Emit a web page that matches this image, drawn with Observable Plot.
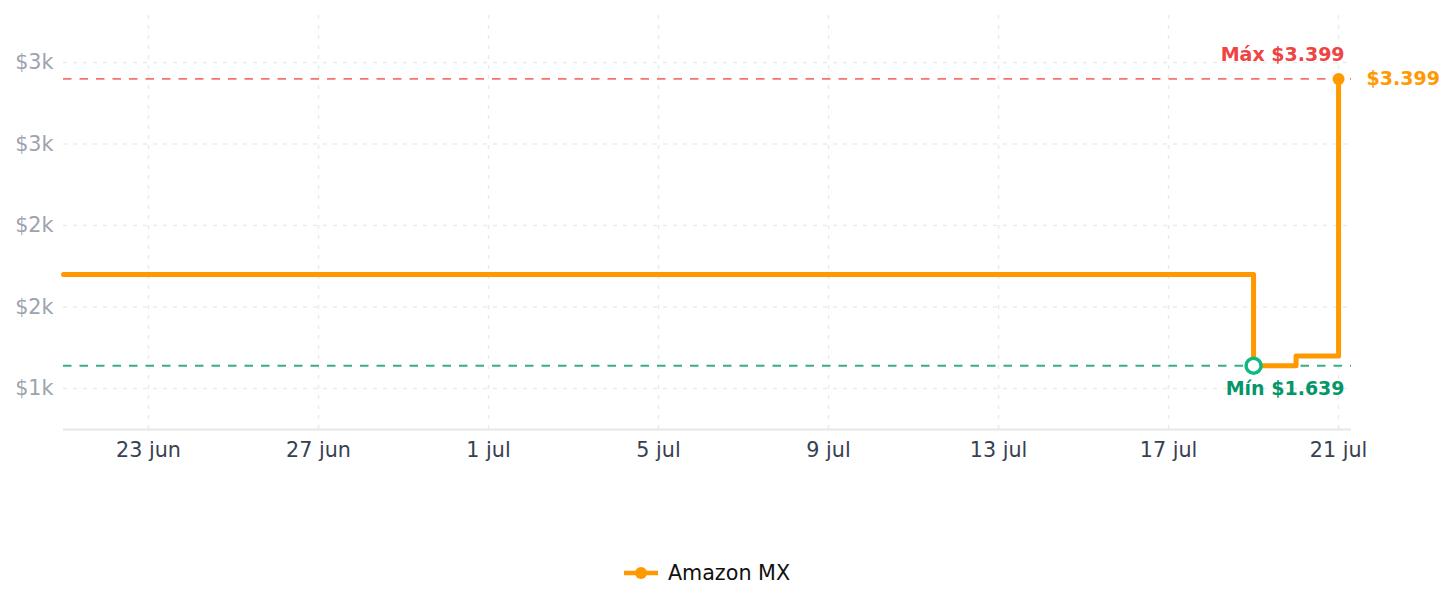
<!DOCTYPE html>
<html><head><meta charset="utf-8">
<script src="https://cdn.jsdelivr.net/npm/d3@7"></script>
<script src="https://cdn.jsdelivr.net/npm/@observablehq/plot@0.6"></script>
<style>
html,body{margin:0;padding:0;background:#fff;}
body{font-family:"DejaVu Sans",sans-serif;width:1453px;}
#chart svg{display:block;}
#legend{box-sizing:border-box;width:1453px;padding:0 102px 0 63px;margin-top:60px;display:flex;justify-content:center;align-items:center;height:26px;}
#legend .item{display:flex;align-items:center;gap:10px;font-size:20.7px;color:#111;}
</style></head><body>
<div id="chart"></div>
<div id="legend"></div>
<script>
// ---- data ----
const storeName = "Amazon MX";
const dates = ["2025-06-21", "2025-07-19", "2025-07-20", "2025-07-21"];
const prices = [2199, 1639, 1699, 3399];
const maxPrice = 3399;
const minPrice = 1639;
const minDate = "2025-07-19";
const lastDate = "2025-07-21";
const maxLabel = "Máx $3.399";
const minLabel = "Mín $1.639";
const lastLabel = "$3.399";
const xTickDates = ["2025-06-23", "2025-06-27", "2025-07-01", "2025-07-05", "2025-07-09", "2025-07-13", "2025-07-17", "2025-07-21"];
const xTickLabels = ["23 jun", "27 jun", "1 jul", "5 jul", "9 jul", "13 jul", "17 jul", "21 jul"];
const yTicks = [1500, 2000, 2500, 3000, 3500];
const yTickLabels = ["$1k", "$2k", "$2k", "$3k", "$3k"];

// ---- build ----
const parse = s => new Date(s + "T00:00:00Z");
const data = dates.map((d, i) => ({date: parse(d), price: prices[i]}));
const xTicks = xTickDates.map(parse);
const xLabelMap = new Map(xTicks.map((d, i) => [+d, xTickLabels[i]]));
const yLabelMap = new Map(yTicks.map((v, i) => [v, yTickLabels[i]]));
const xDomain = [parse(dates[0]), new Date(+parse(lastDate) + 7.3 * 3600e3)];
const yDomain = [1248, 3788];

const orange = "#ff9900";
const maxPt = {date: parse(lastDate), price: maxPrice};
const minPt = {date: parse(minDate), price: minPrice};

const chart = Plot.plot({
  width: 1453,
  height: 500,
  marginLeft: 63,
  marginRight: 102,
  marginTop: 15,
  marginBottom: 71,
  style: {fontFamily: "DejaVu Sans, sans-serif", background: "#fff"},
  x: {type: "utc", domain: xDomain},
  y: {domain: yDomain},
  marks: [
    Plot.gridX(xTicks, {stroke: "#ebebeb", strokeOpacity: 1, strokeDasharray: "4 6", strokeWidth: 1.5}),
    Plot.gridY(yTicks, {stroke: "#ebebeb", strokeOpacity: 1, strokeDasharray: "4 6", strokeWidth: 1.5}),
    Plot.ruleY([yDomain[0]], {stroke: "#e5e7eb", strokeWidth: 2}),
    Plot.axisY(yTicks, {tickSize: 0, tickPadding: 10, fontSize: 20.7, color: "#9ca3af", tickFormat: v => yLabelMap.get(v), label: null}),
    Plot.axisX(xTicks, {tickSize: 0, tickPadding: 13, fontSize: 20.7, color: "#374151", tickFormat: d => xLabelMap.get(+d), label: null}),
    Plot.ruleY([maxPrice], {stroke: "#f87171", strokeWidth: 1.8, strokeDasharray: "8.5 8"}),
    Plot.ruleY([minPrice], {stroke: "#34b085", strokeWidth: 1.8, strokeDasharray: "8.5 8"}),
    Plot.line(data, {x: "date", y: "price", curve: "step-after", stroke: orange, strokeWidth: 5, strokeLinejoin: "round"}),
    Plot.dot([maxPt], {x: "date", y: "price", r: 6, fill: orange}),
    Plot.dot([minPt], {x: "date", y: "price", r: 7.5, fill: "#fff", stroke: "#10b981", strokeWidth: 3.5}),
    Plot.text([maxPt], {x: "date", y: "price", text: () => maxLabel, textAnchor: "end", dx: 6, dy: -24, fill: "#ef4444", fontWeight: "bold", fontSize: 19}),
    Plot.text([minPt], {x: () => parse(lastDate), y: "price", text: () => minLabel, textAnchor: "end", dx: 6, dy: 23, fill: "#059669", fontWeight: "bold", fontSize: 19}),
    Plot.text([maxPt], {x: "date", y: "price", text: () => lastLabel, textAnchor: "start", dx: 28, fill: orange, fontWeight: "bold", fontSize: 19})
  ]
});
document.getElementById("chart").append(chart);

document.getElementById("legend").innerHTML =
  `<div class="item"><svg width="34" height="16"><line x1="0" y1="8" x2="34" y2="8" stroke="${orange}" stroke-width="4.5"/><circle cx="17" cy="8" r="6" fill="${orange}"/></svg><span>${storeName}</span></div>`;
</script>
</body></html>
